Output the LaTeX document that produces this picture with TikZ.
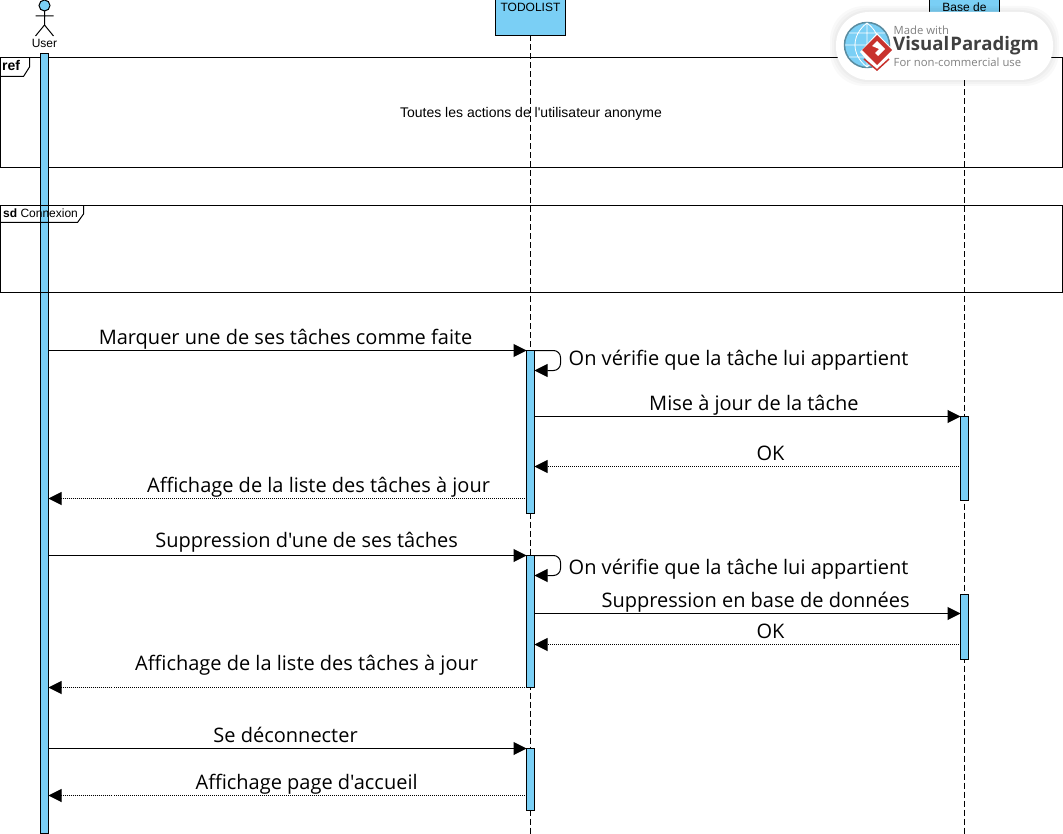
\documentclass[tikz,border=0pt]{standalone}
\usepackage{fontspec}
\setmainfont{Liberation Sans}
\newfontfamily\msgfont{Open Sans}
\usepackage{tikz}
\usetikzlibrary{arrows.meta}
\definecolor{barblue}{RGB}{122,207,245}
\definecolor{badgered}{RGB}{200,50,45}
\definecolor{globeedge}{RGB}{90,140,160}

\tikzset{
  head/.style={draw=black,fill=barblue,minimum width=70pt,minimum height=36pt,inner sep=0pt,outer sep=0pt,line width=1pt},
  bar/.style={draw=black,fill=barblue,minimum width=8pt,inner sep=0pt,outer sep=0pt,line width=1pt},
  frame/.style={draw=black,line width=1pt},
  small/.style={font=\fontsize{12}{14}\selectfont,inner sep=0pt},
  msg/.style={font=\msgfont\fontsize{20}{22}\selectfont,inner sep=0pt,anchor=center,yshift=10pt,text height=11pt,text depth=3pt},
  side/.style={font=\msgfont\fontsize{20}{22}\selectfont,inner sep=0pt,anchor=west},
  call/.style={-{Triangle[length=13pt,width=13pt]},draw=black,line width=1pt},
  reply/.style={-{Triangle[length=13pt,width=13pt]},draw=black,line width=1pt,densely dotted},
  life/.style={draw=black,dash pattern=on 6pt off 3pt,line width=1pt}
}

\begin{document}
\begin{tikzpicture}[x=1pt,y=-1pt]
\useasboundingbox (0,0) rectangle (1063,834);
\fill[white] (0,0) rectangle (1063,834);

% heads
\node[head,anchor=north west] (todo) at (495.5,-.5) {};
\node[small,anchor=north] (todoname) at (530.5,3) {TODOLIST};
\node[head,anchor=north west] (base) at (929.5,-.5) {};
\node[small,anchor=north] (basename) at (964.5,3) {Base de};
\coordinate (todoend) at (530.5,834);
\coordinate (baseend) at (964.5,834);
\draw[life] (todo.south) -- (todoend);
\draw[life] (base.south) -- (baseend);

% actor
\node[circle,draw=black,fill=barblue,minimum size=11pt,inner sep=0pt,outer sep=0pt,line width=1pt] (userhead) at (44.5,5.5) {};
\coordinate (userhip) at (44.5,25);
\coordinate (userarml) at (35.5,16);
\coordinate (userarmr) at (53.5,16);
\coordinate (userfootl) at (35.5,36);
\coordinate (userfootr) at (53.5,36);
\draw[frame] (userhead.south) -- (userhip) (userarml) -- (userarmr) (userfootl) -- (userhip) -- (userfootr);
\node[small,anchor=north] (username) at (44.5,39.5) {User};

% ref frame
\draw[frame] (0,57.5) rectangle (1062.5,167.5);
\draw[frame] (0,76.5) -- (23.5,76.5) -- (29.5,67) -- (29.5,57.5);
\node[inner sep=0pt,anchor=west,font=\fontsize{14}{16}\selectfont\bfseries] (refname) at (2,65.5) {ref};
\node[small,font=\fontsize{14}{16}\selectfont] (reftext) at (531,113.5) {Toutes les actions de l\textquotesingle utilisateur anonyme};

% activations
\node[bar,anchor=north,minimum height=780pt] (userbar) at (44.5,53.5) {};
\node[bar,anchor=north,minimum height=163pt] (todoa) at (530.5,350.5) {};
\node[bar,anchor=north,minimum height=132pt] (todob) at (530.5,555.5) {};
\node[bar,anchor=north,minimum height=62pt] (todoc) at (530.5,748.5) {};
\node[bar,anchor=north,minimum height=84pt] (basea) at (964.5,416.5) {};
\node[bar,anchor=north,minimum height=65pt] (baseb) at (964.5,594.5) {};

% sd frame
\draw[frame] (0,205.5) rectangle (1062.5,292.5);
\draw[frame] (0,222.5) -- (77.5,222.5) -- (83.5,214) -- (83.5,205.5);
\node[small,anchor=west] (sdname) at (3,213.5) {\textbf{sd} Connexion};

% message ends
\coordinate (ua) at (48.5,350.5); \coordinate (ta) at (526.5,350.5);
\coordinate (tb) at (534.5,416.5); \coordinate (bb) at (960.5,416.5);
\coordinate (bc) at (960.5,466.5); \coordinate (tc) at (534.5,466.5);
\coordinate (td) at (526.5,498.5); \coordinate (ud) at (48.5,498.5);
\coordinate (ue) at (48.5,555.5); \coordinate (te) at (526.5,555.5);
\coordinate (tf) at (534.5,613.5); \coordinate (bf) at (960.5,613.5);
\coordinate (bg) at (960.5,644.5); \coordinate (tg) at (534.5,644.5);
\coordinate (th) at (526.5,687.5); \coordinate (uh) at (48.5,687.5);
\coordinate (ui) at (48.5,748.5); \coordinate (ti) at (526.5,748.5);
\coordinate (tj) at (526.5,795.5); \coordinate (uj) at (48.5,795.5);
\coordinate (sa) at (534.5,350.5); \coordinate (sb) at (534.5,370.5);
\coordinate (sc) at (534.5,555.5); \coordinate (sd) at (534.5,575.5);

\path
(ua) edge[call] node[msg,pos=.496] {Marquer une de ses tâches comme faite} (ta)
(tb) edge[call] node[msg,pos=.515] {Mise à jour de la tâche} (bb)
(bc) edge[reply] node[msg,pos=.446] {OK} (tc)
(td) edge[reply] node[msg,pos=.435] {Affichage de la liste des tâches à jour} (ud)
(ue) edge[call] node[msg,pos=.54,yshift=2pt] {Suppression d'une de ses tâches} (te)
(tf) edge[call] node[msg,pos=.519] {Suppression en base de données} (bf)
(bg) edge[reply] node[msg,pos=.446] {OK} (tg)
(th) edge[reply] node[msg,pos=.46,yshift=11pt] {Affichage de la liste des tâches à jour} (uh)
(ui) edge[call] node[msg,pos=.496] {Se déconnecter} (ti)
(tj) edge[reply] node[msg,pos=.46] {Affichage page d'accueil} (uj);

% self calls
\draw[call,rounded corners=7pt] (sa) -- (560.5,350.5) -- (560.5,370.5) -- (sb);
\draw[call,rounded corners=7pt] (sc) -- (560.5,555.5) -- (560.5,575.5) -- (sd);
\node[side] (selfa) at (568.5,360.5) {On vérifie que la tâche lui appartient};
\node[side] (selfb) at (568.5,569.5) {On vérifie que la tâche lui appartient};

% badge
\foreach \g in {6,4,2}
  \fill[black,opacity=.025,rounded corners=34pt] (836-\g,12-\g) rectangle (1053+\g,80+\g);
\node[draw=none,fill=white,rounded corners=33pt,minimum width=217pt,minimum height=68pt,inner sep=0pt] (badge) at (944.5,46) {};
\node[circle,draw=globeedge,fill=barblue,minimum size=45pt,inner sep=0pt,line width=1.5pt] (globe) at (867,45) {};
\draw[white,line width=.8pt] (845,45) -- (889,45) (867,23) -- (867,67) (867,23) .. controls (851,35) and (851,55) .. (867,67) (867,23) .. controls (883,35) and (883,55) .. (867,67) (849,33) -- (885,33) (849,57) -- (885,57);
\fill[white] (877,33) -- (894,51) -- (877,72) -- (860,52) -- cycle;
\fill[badgered] (877,35) -- (892,50) -- (877,65) -- (862,50) -- cycle;
\fill[white] (877,41) -- (885,49) -- (878,56) -- (875,53) -- (879,49) -- (872,46) -- cycle;
\draw[badgered,line width=1.5pt] (864,59) -- (877,70) -- (889,59);
\node[inner sep=0pt,anchor=west,text=black!50,font=\msgfont\fontsize{11.3}{13}\selectfont] (badgea) at (893.5,30) {Made with};
\node[inner sep=0pt,anchor=west,text=black!75,font=\msgfont\bfseries\fontsize{18.6}{21}\selectfont] (badgeb) at (893,46) {Visual\kern1pt Paradigm};
\node[inner sep=0pt,anchor=west,text=black!50,font=\msgfont\fontsize{11.3}{13}\selectfont] (badgec) at (893.5,62) {For non-commercial use};
\end{tikzpicture}
\end{document}
